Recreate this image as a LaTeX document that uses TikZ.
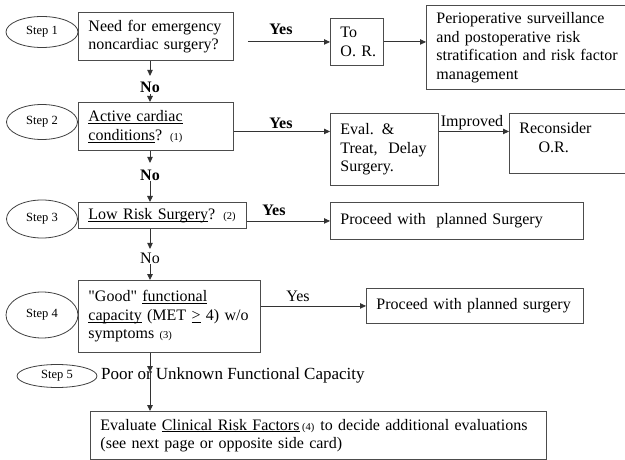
\documentclass[tikz,border=0pt]{standalone}
\usepackage{fontspec}
\setmainfont{Liberation Serif}
\usetikzlibrary{shapes.geometric,arrows.meta,calc}
\newcommand\mainf{\fontsize{16}{18.5}\selectfont}
\newcommand\stepf{\fontsize{12.5}{14}\selectfont}
\newcommand\sm[1]{{\fontsize{10.5}{12}\selectfont #1}}
\newcommand\undl[1]{\leavevmode\setbox0\hbox{#1}\rlap{\rule[-2.2pt]{\wd0}{0.8pt}}\box0\relax}
\tikzset{
  boxn/.style={draw=black!70, line width=0.9pt, rectangle, inner xsep=10pt, inner ysep=0pt,
    align=left, anchor=north west, font=\mainf},
  stepell/.style={ellipse, draw=black!75, line width=0.8pt, inner sep=0pt, font=\stepf},
  arr/.style={draw=black!80, line width=0.9pt, -{Triangle[length=6pt,width=5.5pt]}},
  lbl/.style={inner sep=0pt, anchor=base, font=\mainf},
  nolbl/.style={inner sep=0.5pt, anchor=base, font=\mainf\bfseries},
}
\begin{document}
\begin{tikzpicture}[x=1pt,y=-1pt]
\useasboundingbox (0,0) rectangle (625,460);
% step ellipses
\node[stepell, minimum width=72pt, minimum height=31pt] (s1) at (42,32) {Step 1};
\node[stepell, minimum width=71pt, minimum height=35pt] (s2) at (42,122) {Step 2};
\node[stepell, minimum width=71pt, minimum height=38pt] (s3) at (42,219) {Step 3};
\node[stepell, minimum width=72pt, minimum height=46pt] (s4) at (42,315) {Step 4};
\node[stepell, minimum width=80pt, minimum height=23pt] (s5) at (57,376) {Step 5};
% boxes
\node[boxn, text width=135pt, minimum height=48pt] (box1) at (78,12) {Need for emergency\\noncardiac surgery?};
\node[boxn, text width=33pt, minimum height=47pt] (toOR) at (330,18) {To\\O.~R.};
\node[boxn, text width=190pt, minimum height=84pt] (periop) at (426,5) {Perioperative surveillance\\and postoperative risk\\stratification and risk factor\\management};
\node[boxn, text width=135pt, minimum height=48pt] (box2) at (78,102) {\undl{Active cardiac}\\\undl{conditions}? \sm{(1)}};
\node[boxn, text width=88pt, minimum height=72pt] (eval) at (330,113) {Eval. \&\\Treat,~~Delay\\Surgery.};
\node[boxn, text width=107pt, minimum height=60pt] (recon) at (509,113) {Reconsider\\\hspace*{1.2em}O.R.\\[-6.5pt]\mbox{}};
\node[boxn, text width=148pt, minimum height=26pt] (box3) at (78,202) {\undl{Low Risk Surgery}? \sm{(2)}};
\node[boxn, text width=233pt, minimum height=37pt] (proc1) at (330,202) {Proceed with~~planned Surgery};
\node[boxn, text width=162pt, minimum height=72pt] (box4) at (78,280) {\textquotedbl Good\textquotedbl\ \undl{functional}\\\undl{capacity} (MET~\undl{>}~4) w/o\\symptoms \sm{(3)}};
\node[boxn, text width=197pt, minimum height=35pt] (proc2) at (366,288) {Proceed with planned surgery};
\node[boxn, text width=436pt, minimum height=48pt] (evbox) at (90,411) {Evaluate \undl{Clinical Risk Factors}\,\sm{(4)}\hspace{6pt}to decide additional evaluations\\(see next page or opposite side card)};
\node[inner sep=1pt, anchor=west, font=\fontsize{17}{19}\selectfont] (poor) at (100,375) {Poor or Unknown Functional Capacity};
% labels
\node[lbl, font=\mainf\bfseries] (yes1) at (281,35) {Yes};
\node[lbl, font=\mainf\bfseries] (yes2) at (281,129) {Yes};
\node[lbl, font=\mainf\bfseries] (yes3) at (274,215) {Yes};
\node[lbl] (yes4) at (298,301) {Yes};
\node[lbl] (impr) at (472,127) {Improved};
\node[nolbl] (no1) at (150,93) {No};
\node[nolbl] (no2) at (150,180) {No};
\node[nolbl, font=\mainf] (no3) at (150,263) {No};
\coordinate (c5) at (150,372);
% connectors
\draw[arr, shorten <=14pt] (box1.east |- toOR.west) -- (toOR.west);
\draw[arr] (toOR.east) -- (toOR.east -| periop.west);
\draw[arr] ([yshift=-5pt]box2.east) -- ([yshift=-5pt]box2.east -| eval.west);
\draw[arr] ([yshift=18pt]eval.east) -- ([yshift=18pt]eval.east -| recon.west);
\draw[arr] (box3.east |- proc1.west) -- (proc1.west);
\draw[arr] (box4.east |- proc2.west) -- (proc2.west);
\draw[arr] (box1.south -| no1) -- ++(0,15);
\draw[arr] (no1.south) -- (box2.north -| no1);
\draw[arr] (box2.south -| no2) -- ++(0,12);
\draw[arr] (no2.south) -- (box3.north -| no2);
\draw[arr] (box3.south -| no3) -- ++(0,20);
\draw[arr] (no3.south) -- (box4.north -| no3);
\draw[arr] (box4.south -| c5) -- (c5);
\draw[arr] (c5) -- (evbox.north -| c5);
\end{tikzpicture}
\end{document}
